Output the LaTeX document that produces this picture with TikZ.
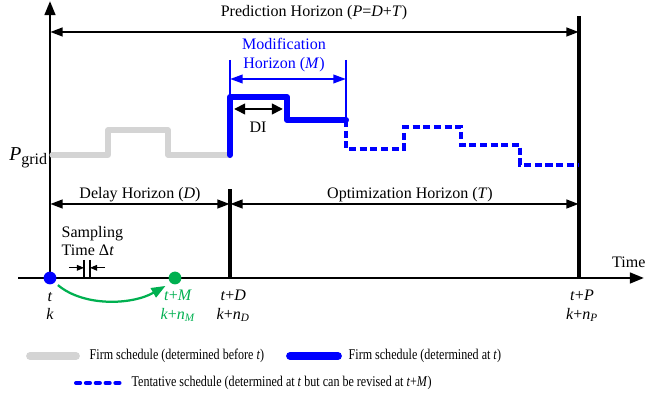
\documentclass[tikz,border=0pt]{standalone}
\usepackage{fontspec}
\usepackage{graphicx}
\setmainfont{Liberation Serif}
\usetikzlibrary{arrows.meta}

\definecolor{pastgray}{RGB}{212,212,212}
\definecolor{markgreen}{RGB}{0,176,80}

\tikzset{
    every node/.style={font=\fontsize{11.4}{13}\selectfont, inner sep=1pt},
    axis/.style={line width=1.9pt, -{Triangle[length=10pt,width=7.5pt]}},
    span/.style={line width=2pt, {Triangle[length=9pt,width=6pt]}-{Triangle[length=9pt,width=6pt]}},
    bound/.style={line width=2.3pt},
    pastline/.style={pastgray, line width=3.6pt, line cap=round, line join=round},
    firmline/.style={blue, line width=4.3pt, line cap=round, line join=round},
    tentline/.style={blue, line width=2.6pt, dash pattern=on 5pt off 2.6pt},
    dot/.style={circle, inner sep=0pt, minimum size=0.32cm},
    legendtext/.style={anchor=west, font=\fontsize{10.6}{12}\selectfont},
}

\begin{document}
\begin{tikzpicture}
    \useasboundingbox (0,0) rectangle (16.65,10.025);

    % axes
    \coordinate (O) at (1.25,3.075);
    \coordinate (ytop) at (1.25,10.0);
    \coordinate (xleft) at (0.45,3.075);
    \coordinate (xright) at (16.1,3.075);
    \draw[axis] (O) -- (ytop);
    \draw[axis] (xleft) -- (xright);
    \node (timelabel) at (15.72,3.48) {Time};

    % horizon boundaries
    \coordinate (Dbot) at (5.75,3.075);
    \coordinate (Dtop) at (5.75,5.3);
    \coordinate (Pbot) at (14.475,3.075);
    \coordinate (Ptop) at (14.475,9.625);
    \draw[bound] (Dbot) -- (Dtop);
    \draw[bound] (Pbot) -- (Ptop);

    % prediction horizon
    \coordinate (predL) at (1.25,9.225);
    \coordinate (predR) at (14.475,9.225);
    \draw[span] (predL) -- (predR);
    \node (predlabel) at (7.85,9.72) {Prediction Horizon (\textit{P}=\textit{D}+\textit{T})};

    % delay and optimization horizons
    \coordinate (delL) at (1.25,4.925);
    \coordinate (delR) at (5.75,4.925);
    \coordinate (optR) at (14.475,4.925);
    \draw[span] (delL) -- (delR);
    \draw[span] (delR) -- (optR);
    \node (dellabel) at (3.5,5.17) {Delay Horizon (\textit{D})};
    \node (optlabel) at (10.25,5.17) {Optimization Horizon (\textit{T})};

    % schedules
    \draw[pastline] (1.3,6.15) -- (2.7,6.15) -- (2.7,6.775) -- (4.2,6.775)
        -- (4.2,6.15) -- (5.75,6.15);
    \draw[tentline] (8.65,7.025) -- (8.65,6.3) -- (10.1,6.3) -- (10.1,6.85)
        -- (11.525,6.85) -- (11.525,6.4) -- (13.0,6.4) -- (13.0,5.9) -- (14.475,5.9);
    \draw[firmline] (5.75,6.15) -- (5.75,7.6) -- (7.175,7.6) -- (7.175,7.025)
        -- (8.65,7.025);
    \node[font=\fontsize{14}{16}\selectfont, anchor=east] (pgrid) at (1.22,6.08)
        {\textit{P}\raisebox{-0.35ex}{\fontsize{11.4}{13}\selectfont grid}};

    % modification horizon
    \coordinate (modL) at (5.75,8.525);
    \coordinate (modR) at (8.65,8.525);
    \coordinate (modLb) at (5.75,7.6);
    \coordinate (modRb) at (8.65,7.05);
    \draw[blue, line width=1.8pt] (modL) -- (modLb);
    \draw[blue, line width=1.8pt] (modR) -- (modRb);
    \draw[blue, line width=1.6pt, {Triangle[length=9pt,width=6pt]}-{Triangle[length=9pt,width=6pt]}]
        (5.75,8.05) -- (8.65,8.05);
    \node[blue, align=center] (modlabel) at (7.1,8.65) {Modification\\Horizon (\textit{M})};

    % decision interval
    \draw[line width=2pt, {Triangle[length=8pt,width=7.5pt]}-{Triangle[length=8pt,width=7.5pt]}]
        (5.85,7.3) -- (7.075,7.3);
    \node (dilabel) at (6.45,6.85) {DI};

    % sampling time
    \node[align=left, anchor=west] (samplabel) at (1.5,4.0) {Sampling\\Time Δ\textit{t}};
    \coordinate (s1) at (2.1,3.525);
    \coordinate (s2) at (2.25,3.525);
    \draw[line width=0.8pt] (s1) -- (2.1,3.075);
    \draw[line width=0.8pt] (s2) -- (2.25,3.075);
    \draw[line width=0.8pt, -{Triangle[length=5pt,width=4pt]}] (1.72,3.33) -- (2.1,3.33);
    \draw[line width=0.8pt, -{Triangle[length=5pt,width=4pt]}] (2.63,3.33) -- (2.25,3.33);

    % time instants
    \node[dot, fill=blue] (tdot) at (O) {};
    \node[dot, fill=markgreen] (mdot) at (4.375,3.075) {};
    \draw[markgreen, line width=1.6pt, -{Triangle[length=10pt,width=7.5pt]}]
        ([shift={(0.08,-0.06)}]tdot.south east) .. controls (2.1,2.35) and (3.3,2.4) ..
        ([shift={(-0.12,-0.08)}]mdot.south west);
    \node[align=center] (tlabel) at (1.25,2.375) {\textit{t}\\\textit{k}};
    \node[align=center, markgreen] (mlabel) at (4.45,2.375)
        {\textit{t}+\textit{M}\\\textit{k}+\textit{n}\textsubscript{\textit{M}}};
    \node[align=center] (dlabel) at (5.83,2.375)
        {\textit{t}+\textit{D}\\\textit{k}+\textit{n}\textsubscript{\textit{D}}};
    \node[align=center] (plabel) at (14.55,2.375)
        {\textit{t}+\textit{P}\\\textit{k}+\textit{n}\textsubscript{\textit{P}}};

    % legend
    \coordinate (lg1a) at (0.75,1.125);
    \coordinate (lg1b) at (1.9,1.125);
    \coordinate (lg2a) at (7.25,1.125);
    \coordinate (lg2b) at (8.45,1.125);
    \coordinate (lg3a) at (1.9,0.45);
    \coordinate (lg3b) at (3.0,0.45);
    \draw[pastline, line width=5.5pt] (lg1a) -- (lg1b);
    \draw[firmline, line width=5.5pt] (lg2a) -- (lg2b);
    \draw[tentline, line width=2.8pt, line cap=round, dash pattern=on 3pt off 4pt] (lg3a) -- (lg3b);
    \node[legendtext] (lgtext1) at (2.2,1.125)
        {\scalebox{0.81}[1]{Firm schedule (determined before \textit{t})}};
    \node[legendtext] (lgtext2) at (8.675,1.125)
        {\scalebox{0.81}[1]{Firm schedule (determined at \textit{t})}};
    \node[legendtext] (lgtext3) at (3.25,0.45)
        {\scalebox{0.81}[1]{Tentative schedule (determined at \textit{t} but can be revised at \textit{t}+\textit{M})}};
\end{tikzpicture}
\end{document}
